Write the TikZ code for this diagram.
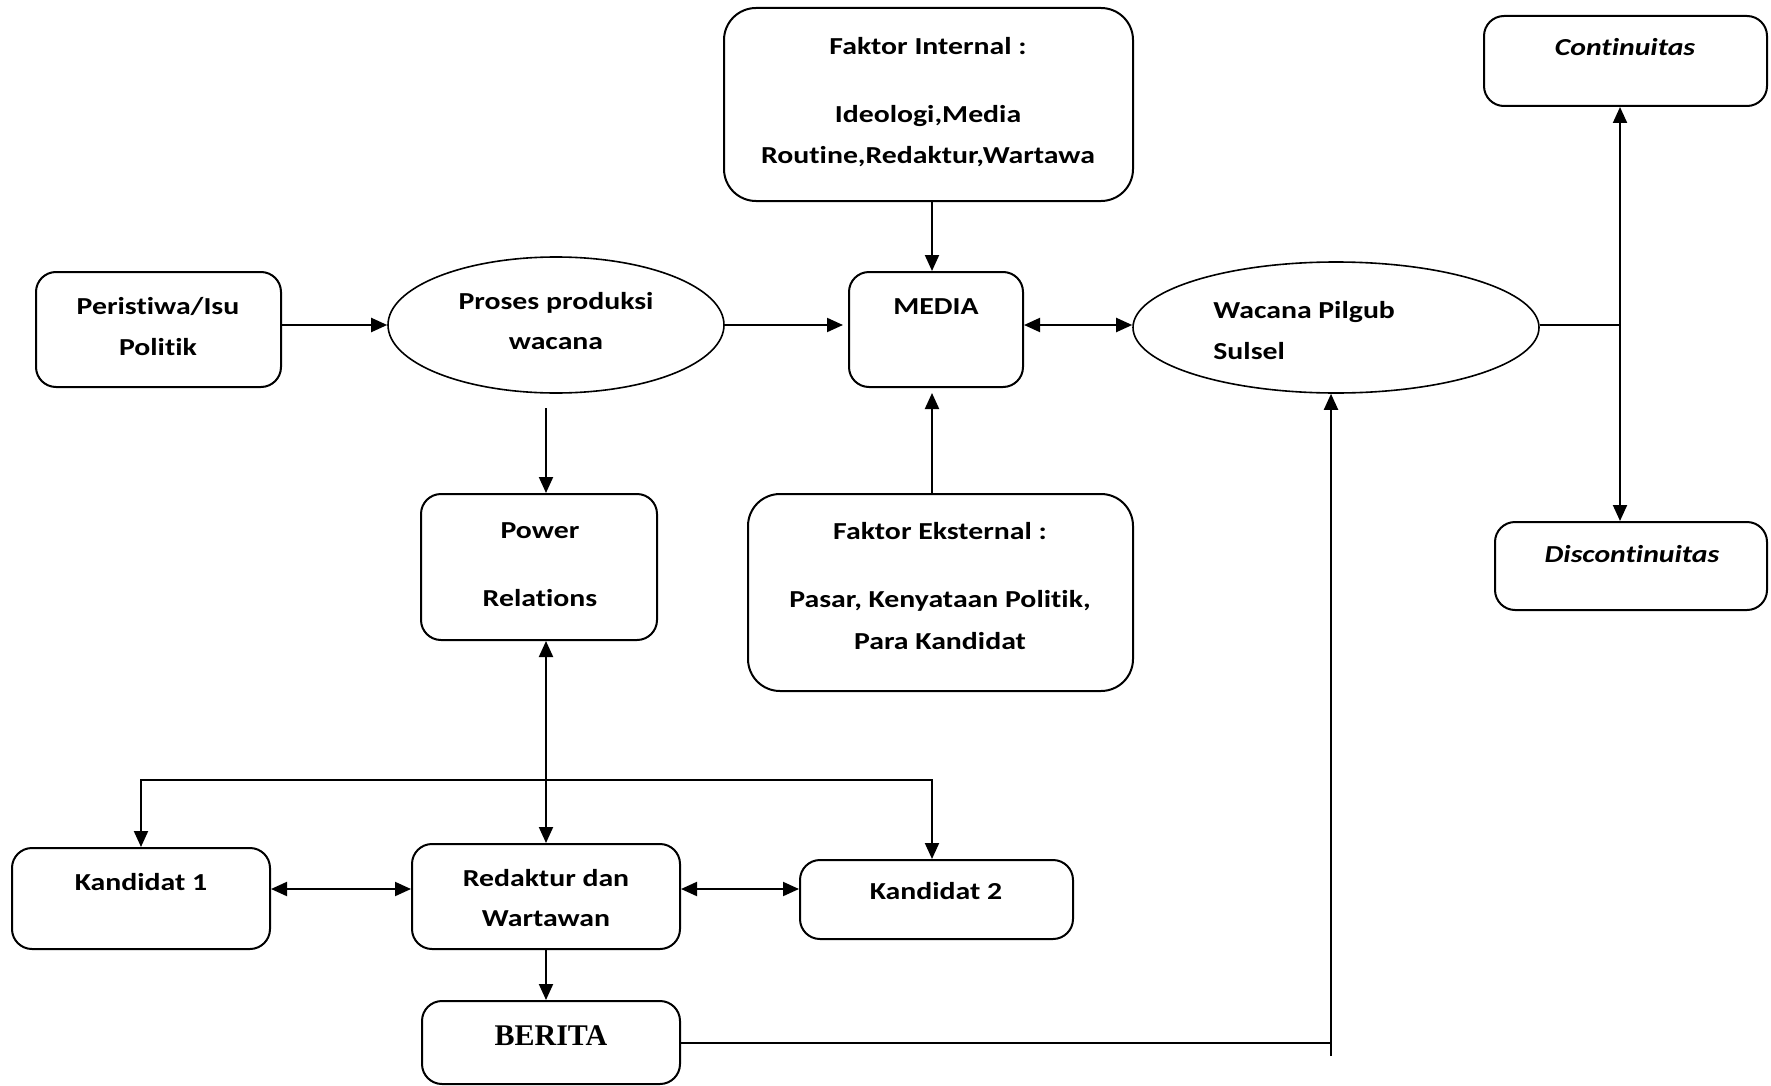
\documentclass[tikz,border=0pt]{standalone}
\usepackage{fontspec}
\setmainfont[FakeStretch=1.22,Ligatures={NoCommon}]{Carlito}
\newfontfamily\beritafont{Liberation Serif}
\usetikzlibrary{arrows.meta,shapes.geometric}
\begin{document}
\begin{tikzpicture}[x=0.5pt,y=-0.5pt,
  box/.style={draw,line width=1pt,rounded corners=10pt,inner sep=0pt},
  bigbox/.style={box,rounded corners=16pt},
  oval/.style={draw,ellipse,line width=0.8pt,inner sep=0pt},
  txt/.style={anchor=base,inner sep=0pt,font=\fontsize{12.2}{14}\selectfont\bfseries},
  itxt/.style={txt,font=\fontsize{12.2}{14}\selectfont\bfseries\itshape},
  ltxt/.style={txt,anchor=base west},
  conn/.style={line width=1pt},
  arr/.style={conn,-{Triangle[length=8pt,width=7pt]}},
  darr/.style={conn,{Triangle[length=8pt,width=7pt]}-{Triangle[length=8pt,width=7pt]}},
]
\useasboundingbox (0,0) rectangle (1771,1086);

% shapes
\node[bigbox,minimum width=204.5pt,minimum height=96.5pt] (internal) at (928.5,104.5) {};
\node[box,minimum width=87pt,minimum height=57.5pt] (media) at (936,329.5) {};
\node[box,minimum width=122.5pt,minimum height=57.5pt] (peristiwa) at (158.5,329.5) {};
\node[oval,minimum width=168pt,minimum height=68pt] (proses) at (556,325) {};
\node[oval,minimum width=203pt,minimum height=65.5pt] (wacana) at (1336,327.5) {};
\node[box,minimum width=141.5pt,minimum height=45pt] (cont) at (1625.5,61) {};
\node[box,minimum width=136pt,minimum height=44pt] (disc) at (1631,566) {};
\node[box,minimum width=118pt,minimum height=73pt] (power) at (539,567) {};
\node[bigbox,minimum width=192.5pt,minimum height=98.5pt] (eksternal) at (940.5,592.5) {};
\node[box,minimum width=129pt,minimum height=50.5pt] (k1) at (141,898.5) {};
\node[box,minimum width=134pt,minimum height=52.5pt] (redaktur) at (546,896.5) {};
\node[box,minimum width=136.5pt,minimum height=39.5pt] (k2) at (936.5,899.5) {};
\node[box,minimum width=129pt,minimum height=41.5pt] (berita) at (551,1042.5) {};

% texts
\node[txt] (t-int1) at (928,55) {Faktor Internal :};
\node[txt] (t-int2) at (928,122) {Ideologi,Media};
\node[txt] (t-int3) at (928,163) {Routine,Redaktur,Wartawa};
\node[txt] (t-media) at (936,314) {MEDIA};
\node[txt] (t-per1) at (158,314) {Peristiwa/Isu};
\node[txt] (t-per2) at (158,355) {Politik};
\node[txt] (t-pro1) at (556,309) {Proses produksi};
\node[txt] (t-pro2) at (556,349) {wacana};
\node[ltxt] (t-wac1) at (1213,318) {Wacana Pilgub};
\node[ltxt] (t-wac2) at (1213,359) {Sulsel};
\node[itxt] (t-cont) at (1625,56) {Continuitas};
\node[itxt] (t-disc) at (1632,562) {Discontinuitas};
\node[txt] (t-pow1) at (540,538) {Power};
\node[txt] (t-pow2) at (540,606) {Relations};
\node[txt] (t-eks1) at (940,539) {Faktor Eksternal :};
\node[txt] (t-eks2) at (940,607) {Pasar, Kenyataan Politik,};
\node[txt] (t-eks3) at (940,649) {Para Kandidat};
\node[txt] (t-k1) at (141,890) {Kandidat 1};
\node[txt] (t-red1) at (546,886) {Redaktur dan};
\node[txt] (t-red2) at (546,926) {Wartawan};
\node[txt] (t-k2) at (936,899) {Kandidat 2};
\node[anchor=base,inner sep=0pt,font=\beritafont\fontsize{15}{17}\selectfont\bfseries] (t-ber) at (551,1045) {BERITA};

% helper coordinates
\coordinate (vx) at (1620,0);
\coordinate (mx) at (932,0);
\coordinate (ps) at (546,408);
\coordinate (hm) at (0,325);
\coordinate (hl) at (0,780);
\coordinate (hk) at (0,889);
\coordinate (bv) at (1331,1056);

% connectors
\draw[arr] (internal.south -| mx) -- (media.north -| mx);
\draw[arr] (peristiwa.east |- hm) -- (proses.west |- hm);
\draw[arr] (proses.east) -- ([xshift=-2.5pt]proses.east -| media.west);
\draw[darr] (media.east |- hm) -- (wacana.west |- hm);
\draw[conn] (wacana.east |- hm) -- (vx |- hm);
\draw[darr] (cont.south -| vx) -- (disc.north -| vx);
\draw[arr] (ps) -- (ps |- power.north);
\draw[arr] (eksternal.north -| mx) -- ([yshift=-2.5pt]media.south -| mx);
\draw[darr] (redaktur.north |- power.south) -- (redaktur.north);
\draw[darr] (k1.north) -- (k1.north |- hl) -- (mx |- hl) -- (k2.north -| mx);
\draw[darr] (k1.east |- hk) -- (redaktur.west |- hk);
\draw[darr] (redaktur.east |- hk) -- (k2.west |- hk);
\draw[arr] (redaktur.south) -- (redaktur.south |- berita.north);
\draw[conn] (berita.east) -- (berita.east -| bv);
\draw[arr] (bv) -- (bv |- wacana.south);
\end{tikzpicture}
\end{document}
